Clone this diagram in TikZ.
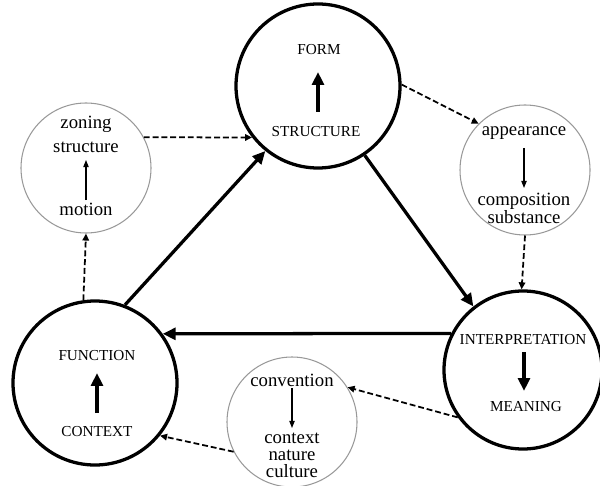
\documentclass[tikz,border=0pt]{standalone}
\usepackage{fontspec}
\setmainfont{Liberation Serif}
\usetikzlibrary{arrows.meta}
\begin{document}
\begin{tikzpicture}[x=0.03cm,y=-0.03cm,
 bigc/.style={circle,draw,line width=2.8pt,inner sep=0pt},
 smallc/.style={circle,draw=gray!80,line width=0.9pt,inner sep=0pt,minimum size={130*0.03cm}},
 caps/.style={font=\fontsize{13}{15}\selectfont,inner sep=0pt},
 lower/.style={font=\fontsize{16}{14.5}\selectfont,inner sep=0pt,align=center},
 mainarrow/.style={line width=2.8pt,-{Triangle[length=11pt,width=10pt]}},
 innerarrow/.style={line width=2.8pt,-{Triangle[length=11pt,width=10pt]}},
 thinarrow/.style={line width=1pt,-{Triangle[length=6pt,width=4.5pt]}},
 dasharrow/.style={line width=1.5pt,dash pattern=on 5pt off 2.5pt,-{Triangle[length=6pt,width=5.5pt]}},
]
\useasboundingbox (0,0) rectangle (600,485);

% big circles
\node[bigc,minimum size={164*0.03cm}] (form) at (318,86) {};
\node[bigc,minimum size={164*0.03cm}] (func) at (95,383) {};
\node[bigc,minimum size={158*0.03cm}] (interp) at (523,370) {};

% small circles
\node[smallc] (zoning) at (86,168) {};
\node[smallc] (app) at (525,170) {};
\node[smallc] (conv) at (292,422) {};

% texts in big circles
\node[caps] (tform) at (319,50) {FORM};
\node[caps] (tstruct) at (316,132) {STRUCTURE};
\draw[innerarrow] (318,112) -- (318,72);

\node[caps] (tfunc) at (97,356) {FUNCTION};
\node[caps] (tcontext) at (97,432) {CONTEXT};
\draw[innerarrow] (97,413) -- (97,373);

\node[caps] (tinterp) at (523,340) {INTERPRETATION};
\node[caps] (tmean) at (526,407) {MEANING};
\draw[innerarrow] (524,352) -- (524,391);

% texts in small circles
\node[lower] (tzoning) at (86,124) {zoning};
\node[lower] (tstructure) at (86,147) {structure};
\node[lower] (tmotion) at (86,209) {motion};
\draw[thinarrow] (86,200) -- (86,160);

\node[lower] (tapp) at (524,133) {appearance};
\node[lower] (tcomp) at (524,208) {composition\\substance};
\draw[thinarrow] (524,148) -- (524,188);

\node[lower] (tconv) at (292,380) {convention};
\node[lower] (tcnc) at (292,455) {context\\nature\\culture};
\draw[thinarrow] (292,388) -- (292,428);

% main solid arrows
\draw[mainarrow] (func.69) -- (form.231);
\draw[mainarrow] (form.304) -- (interp.128);
\draw[mainarrow] (interp.153) -- (func.36);

% dashed arrows
\draw[dasharrow] (zoning.28) -- (form.218);
\draw[dasharrow] (form.1) -- (app.135);
\draw[dasharrow] (app.270) -- (interp.91);
\draw[dasharrow] (interp.216) -- (conv.32);
\draw[dasharrow] (conv.207) -- (func.321);
\draw[dasharrow] (func.98) -- (zoning.270);
\end{tikzpicture}
\end{document}
